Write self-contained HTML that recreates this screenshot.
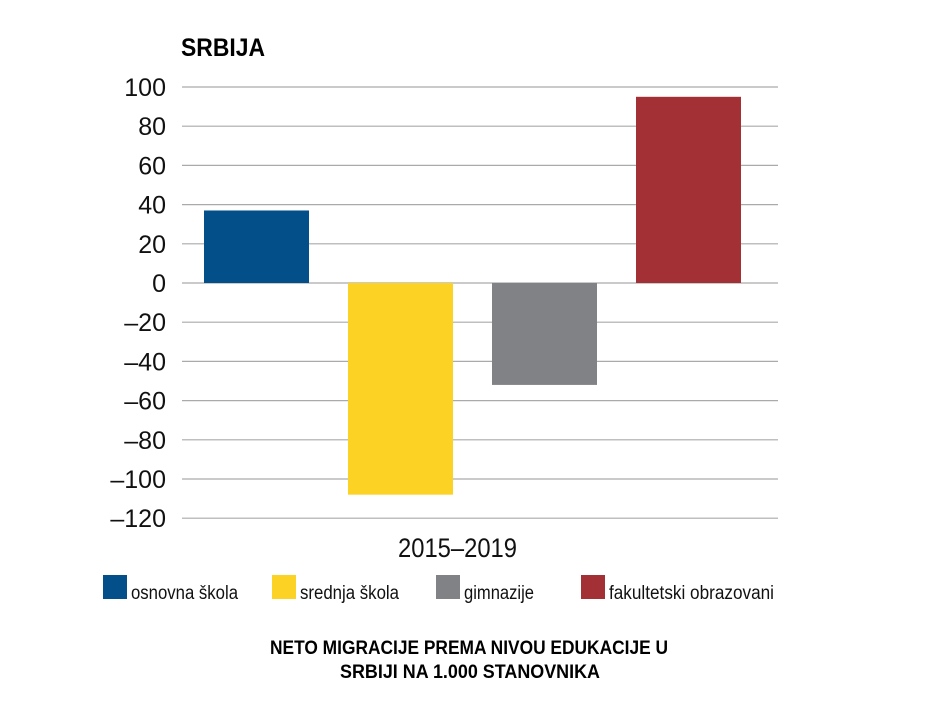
<!DOCTYPE html>
<html><head><meta charset="utf-8"><style>
body{margin:0;background:#fff;}
svg{display:block;font-family:"Liberation Sans Narrow","Liberation Sans",sans-serif;}
</style></head><body>
<svg id="chart" width="940" height="721">
<text x="181" y="56" font-size="25" font-weight="bold" textLength="84" lengthAdjust="spacingAndGlyphs">SRBIJA</text>
<g id="grid"></g><g id="bars"></g>
<text x="398" y="557" font-size="27" textLength="119" lengthAdjust="spacingAndGlyphs" fill="#111">2015–2019</text>
<g id="legend"></g>
<text x="270" y="654" font-size="19" font-weight="bold" textLength="398" lengthAdjust="spacingAndGlyphs">NETO MIGRACIJE PREMA NIVOU EDUKACIJE U</text>
<text x="340" y="678" font-size="19" font-weight="bold" textLength="260" lengthAdjust="spacingAndGlyphs">SRBIJI NA 1.000 STANOVNIKA</text>
</svg>
<script>
const categories=["osnovna škola","srednja škola","gimnazije","fakultetski obrazovani"];
const values=[37,-108,-52,95];
const colors=["#034f8a","#fcd325","#808285","#a33034"];
const ticks=[100,80,60,40,20,0,-20,-40,-60,-80,-100,-120];
const tickLabels=["100","80","60","40","20","0","–20","–40","–60","–80","–100","–120"];
const NS="http://www.w3.org/2000/svg";
const y=v=>283-v*1.96;
const barX=i=>204+i*144;
function mk(t,a,p){const e=document.createElementNS(NS,t);for(const k in a)e.setAttribute(k,a[k]);p.appendChild(e);return e;}
const grid=document.getElementById('grid');
ticks.forEach((t,i)=>{
  const l=mk('line',{x1:182,x2:778,y1:y(t),y2:y(t),stroke:'#aaa','stroke-width':1.2},grid);
  
  
  const tx=mk('text',{x:166,y:y(t)+9,'font-size':25,'text-anchor':'end',fill:'#111'},grid);
  tx.textContent=tickLabels[i];
  
  
});
const bars=document.getElementById('bars');
values.forEach((v,i)=>{
  const r=mk('rect',{x:barX(i),y:Math.min(y(v),y(0)),width:105,height:Math.abs(y(v)-y(0)),fill:colors[i]},bars);
  
  
});
const lx=[103,272,436,581];
const lw=[107,99,70,165];
const lg=document.getElementById('legend');
categories.forEach((c,i)=>{
  const r=mk('rect',{x:lx[i],y:575,width:24,height:24,fill:colors[i]},lg);
  
  
  const t=mk('text',{x:lx[i]+28,y:599,'font-size':19,fill:'#111',textLength:lw[i],lengthAdjust:'spacingAndGlyphs'},lg);
  t.textContent=c;
  
  
});
</script>
</body></html>
